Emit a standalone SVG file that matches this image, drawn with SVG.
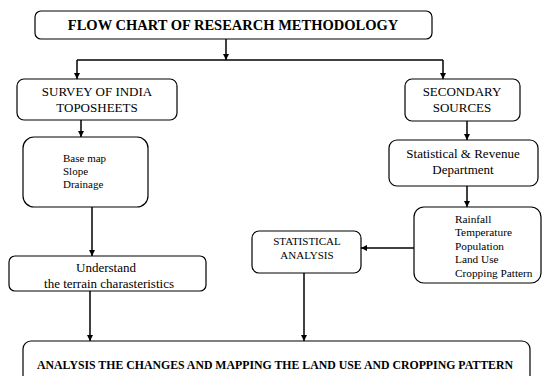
<svg xmlns="http://www.w3.org/2000/svg" width="544" height="376" viewBox="0 0 544 376">
<style>
.box{fill:#fff;stroke:#000;stroke-width:1.2}
.t{font-family:'Liberation Serif','Times New Roman','DejaVu Serif',serif;fill:#000}
.c{stroke:#000;stroke-width:1.5;fill:none}
</style>
<defs>
<marker id="ah" viewBox="0 0 8 8" refX="8" refY="4" markerWidth="6" markerHeight="6" markerUnits="userSpaceOnUse" orient="auto">
<path d="M0,0 L8,4 L0,8 Z" fill="#000"/>
</marker>
</defs>
<rect width="544" height="376" fill="#fff"/>
<g id="title"><rect class="box" x="35" y="11" width="397" height="28" rx="6"/>
<text class="t" x="233" y="30" text-anchor="middle" font-size="14.5" font-weight="bold">FLOW CHART OF RESEARCH METHODOLOGY</text></g>
<g id="survey"><rect class="box" x="17" y="79" width="160" height="41" rx="7"/>
<text class="t" x="97" y="96" text-anchor="middle" font-size="13">SURVEY OF INDIA</text>
<text class="t" x="97" y="112" text-anchor="middle" font-size="13">TOPOSHEETS</text></g>
<g id="secondary"><rect class="box" x="405" y="79" width="115" height="42" rx="7"/>
<text class="t" x="462" y="96" text-anchor="middle" font-size="13">SECONDARY</text>
<text class="t" x="462" y="112" text-anchor="middle" font-size="13">SOURCES</text></g>
<g id="basemap"><rect class="box" x="23" y="137" width="125" height="70" rx="11"/>
<text class="t" x="63" y="162" font-size="11">Base map</text>
<text class="t" x="63" y="175" font-size="11">Slope</text>
<text class="t" x="63" y="188" font-size="11">Drainage</text></g>
<g id="understand"><rect class="box" x="9" y="256" width="197" height="35" rx="6"/>
<text class="t" x="106" y="272" text-anchor="middle" font-size="13">Understand</text>
<text class="t" x="109" y="288" text-anchor="middle" font-size="13">the terrain charasteristics</text></g>
<g id="statrev"><rect class="box" x="389" y="140" width="149" height="46" rx="8"/>
<text class="t" x="463" y="158" text-anchor="middle" font-size="13">Statistical &amp; Revenue</text>
<text class="t" x="463" y="174" text-anchor="middle" font-size="13">Department</text></g>
<g id="rainfall"><rect class="box" x="414" y="207" width="127" height="76" rx="10"/>
<text class="t" x="455" y="223" font-size="11.3">Rainfall</text>
<text class="t" x="455" y="236" font-size="11.3">Temperature</text>
<text class="t" x="455" y="250" font-size="11.3">Population</text>
<text class="t" x="455" y="263" font-size="11.3">Land Use</text>
<text class="t" x="455" y="277" font-size="11.3">Cropping Pattern</text></g>
<g id="statanalysis"><rect class="box" x="252" y="231" width="109" height="42" rx="7"/>
<text class="t" x="307" y="245" text-anchor="middle" font-size="11">STATISTICAL</text>
<text class="t" x="307" y="259" text-anchor="middle" font-size="11">ANALYSIS</text></g>
<g id="final"><rect class="box" x="23" y="341" width="507" height="45" rx="8"/>
<text class="t" x="275" y="369" text-anchor="middle" font-size="11.8" font-weight="bold">ANALYSIS THE CHANGES AND MAPPING THE LAND USE AND CROPPING PATTERN</text></g>
<g id="connectors">
<path class="c" d="M226,39 V60" marker-end="url(#ah)"/>
<path class="c" d="M77,60 H443"/>
<path class="c" d="M77,60 V79" marker-end="url(#ah)"/>
<path class="c" d="M443,60 V79" marker-end="url(#ah)"/>
<path class="c" d="M81,120 V137" marker-end="url(#ah)"/>
<path class="c" d="M92,207 V256" marker-end="url(#ah)"/>
<path class="c" d="M90,291 V341" marker-end="url(#ah)"/>
<path class="c" d="M467,121 V140" marker-end="url(#ah)"/>
<path class="c" d="M467,186 V207" marker-end="url(#ah)"/>
<path class="c" d="M414,248 H361" marker-end="url(#ah)"/>
<path class="c" d="M304,273 V341" marker-end="url(#ah)"/>
</g>
</svg>
